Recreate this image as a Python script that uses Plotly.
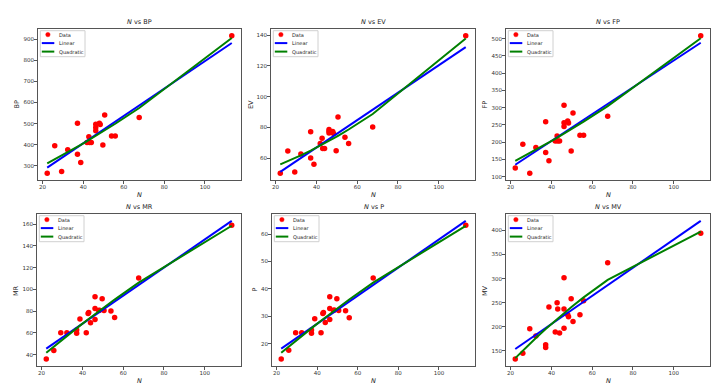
import numpy as np
import plotly.graph_objects as go

# shared x values
N = [22.3, 26.0, 29.4, 32.4, 37.2, 37.2, 38.8, 41.9, 42.8, 43.1, 44.0,
     46.2, 46.2, 46.2, 48.0, 48.4, 49.7, 50.6, 54.0, 55.8, 67.6, 113.2]

BP = [265, 395, 273, 376, 502, 355, 316, 410, 437, 410, 410,
      497, 482, 466, 502, 496, 398, 541, 441, 441, 529, 916]
EV = [50.2, 64.6, 51.0, 62.6, 77.2, 60.0, 56.0, 69.5, 73.0, 66.2, 66.2,
      78.6, 77.5, 76.4, 77.3, 76.0, 64.8, 86.7, 73.6, 69.5, 80.2, 139.6]
FP = [125, 194, 110, 184, 259, 170, 146, 203, 218, 203, 203,
      307, 256, 245, 261, 255, 174, 284, 220, 220, 275, 508]
MR = [36.0, 44.0, 60.3, 60.3, 62.8, 59.7, 72.9, 60.3, 78.0, 78.8, 69.5,
      93.2, 82.5, 72.3, 80.6, 81.0, 91.4, 80.6, 80.3, 74.2, 110.5, 159.1]
P = [14.4, 17.6, 24.0, 24.0, 25.0, 23.8, 29.1, 24.0, 31.0, 31.4, 27.7,
     37.1, 32.8, 28.8, 32.1, 32.3, 36.4, 32.1, 32.0, 29.5, 44.0, 63.2]
MV = [133, 145, 196, 181, 163, 157, 241, 189, 250, 237, 187,
      302, 237, 197, 225, 221, 258, 211, 225, 254, 333, 394]

names = ["BP", "EV", "FP", "MR", "P", "MV"]
series = [BP, EV, FP, MR, P, MV]
y_steps = [100, 20, 50, 20, 10, 50]
legend_labels = ["Data", "Linear", "Quadratic"]

W, H = 725, 389
OFF = 8  # the page body adds an 8px margin around the figure
# plot areas in window pixels: (left, right, top, bottom)
boxes = [(38, 241, 29, 180), (271, 475, 29, 180), (506, 710, 29, 180),
         (37, 241, 214, 366), (272, 475, 214, 366), (506, 710, 214, 366)]
ytitle_gap = [21, 19.5, 21, 21, 17.5, 21]

FONT = "DejaVu Sans"
TXT = "#222"


def px(xp):
    return (xp - OFF) / W


def py(yp):
    return 1 - (yp - OFF) / H


fig = go.Figure()
x = np.array(N)
order = np.argsort(x, kind="stable")
xs = x[order]

for i, (name, vals, step) in enumerate(zip(names, series, y_steps)):
    k = i + 1
    sfx = "" if k == 1 else str(k)
    y = np.array(vals)
    lin = np.polyval(np.polyfit(x, y, 1), xs)
    quad = np.polyval(np.polyfit(x, y, 2), xs)

    fig.add_trace(go.Scatter(x=N, y=vals, mode="markers", name="Data",
                             marker=dict(color="red", size=5.5),
                             xaxis="x" + sfx, yaxis="y" + sfx, showlegend=False))
    fig.add_trace(go.Scatter(x=[xs[0], xs[-1]], y=[lin[0], lin[-1]], mode="lines",
                             name="Linear", line=dict(color="blue", width=2),
                             xaxis="x" + sfx, yaxis="y" + sfx, showlegend=False))
    fig.add_trace(go.Scatter(x=xs, y=quad, mode="lines", name="Quadratic",
                             line=dict(color="green", width=2),
                             xaxis="x" + sfx, yaxis="y" + sfx, showlegend=False))

    l, r, t, b = boxes[i]
    xmin, xmax = x.min(), x.max()
    allv = np.concatenate([y, lin, quad])
    ymin, ymax = allv.min(), allv.max()
    xpad = 0.05 * (xmax - xmin)
    ypad = 0.05 * (ymax - ymin)
    axis_common = dict(showgrid=False, zeroline=False, showline=True, mirror=True,
                       linecolor="#555", linewidth=1, ticks="outside", ticklen=3,
                       tickcolor="#555", automargin=False,
                       tickfont=dict(size=5.5, color="#333", family=FONT))
    fig.layout["xaxis" + sfx] = dict(
        domain=[px(l), px(r)], anchor="y" + sfx,
        range=[xmin - xpad, xmax + xpad], tick0=0, dtick=20,
        ticklabelstandoff=-2, **axis_common)
    fig.layout["yaxis" + sfx] = dict(
        domain=[py(b), py(t)], anchor="x" + sfx,
        range=[ymin - ypad, ymax + ypad], tick0=0, dtick=step,
        ticklabelstandoff=-1, **axis_common)

    # titles
    fig.add_annotation(text="<i>N</i> vs " + name, xref="paper", yref="paper",
                       x=px((l + r) / 2), y=py(t - 7), xanchor="center", yanchor="middle",
                       showarrow=False, font=dict(size=6.5, color=TXT, family=FONT))
    fig.add_annotation(text="<i>N</i>", xref="paper", yref="paper",
                       x=px((l + r) / 2), y=py(b + 14.5), xanchor="center", yanchor="middle",
                       showarrow=False, font=dict(size=6.5, color=TXT, family=FONT))
    fig.add_annotation(text=name, xref="paper", yref="paper", textangle=-90,
                       x=px(l - ytitle_gap[i]), y=py((t + b) / 2), xanchor="center",
                       yanchor="middle", showarrow=False,
                       font=dict(size=6.5, color=TXT, family=FONT))

    # legend box in the upper left corner of each panel
    fig.add_shape(type="rect", xref="paper", yref="paper",
                  x0=px(l + 2.3), x1=px(l + 47), y0=py(t + 1.7), y1=py(t + 27.7),
                  line=dict(color="#d0d0d0", width=1), fillcolor="white", layer="above")
    rows = [t + 5.6, t + 14.1, t + 22.6]
    fig.add_shape(type="circle", xref="paper", yref="paper",
                  x0=px(l + 7.7), x1=px(l + 12.1), y0=py(rows[0] - 2.2), y1=py(rows[0] + 2.2),
                  line=dict(color="red", width=0.5), fillcolor="red", layer="above")
    for ry, col in zip(rows[1:], ["blue", "green"]):
        fig.add_shape(type="line", xref="paper", yref="paper",
                      x0=px(l + 3.8), x1=px(l + 16.3), y0=py(ry), y1=py(ry),
                      line=dict(color=col, width=2), layer="above")
    for ry, lab in zip(rows, legend_labels):
        fig.add_annotation(text=lab, xref="paper", yref="paper",
                           x=px(l + 19.3), y=py(ry), xanchor="left", yanchor="middle",
                           showarrow=False, font=dict(size=5, color=TXT, family=FONT))

fig.update_layout(width=W, height=H, margin=dict(l=0, r=0, t=0, b=0),
                  paper_bgcolor="white", plot_bgcolor="white", showlegend=False)
fig.write_html("out.html")
